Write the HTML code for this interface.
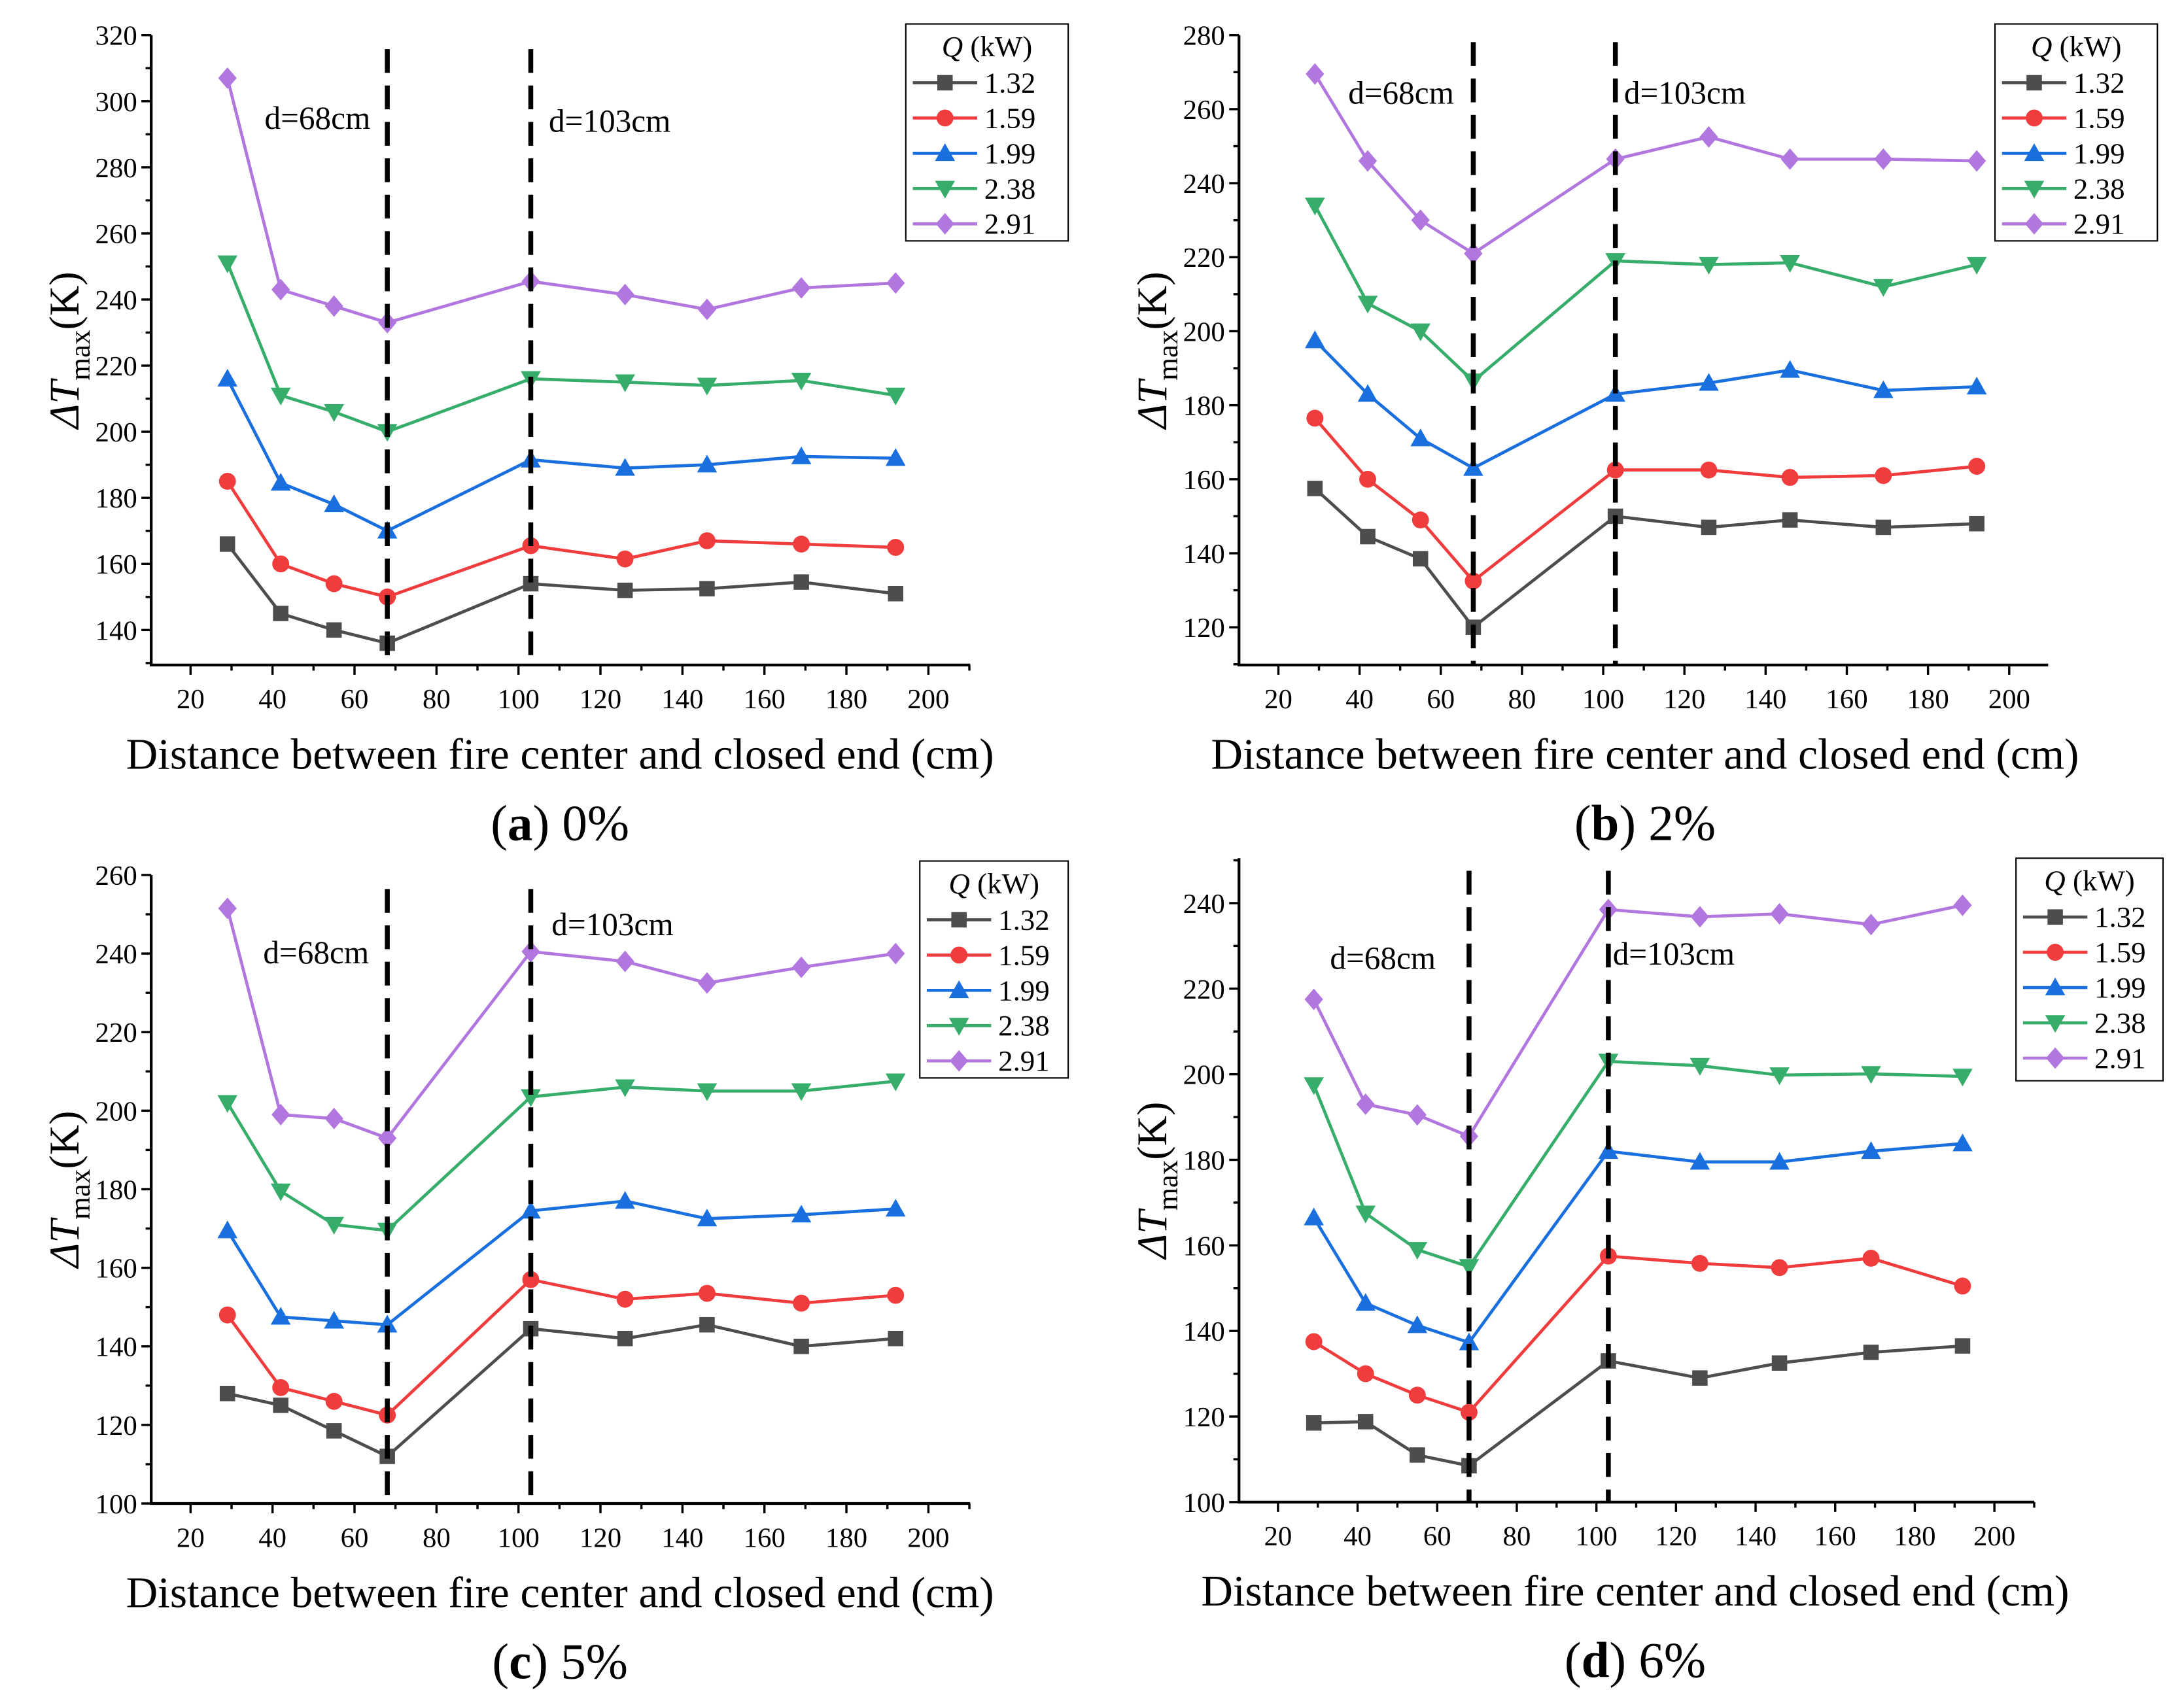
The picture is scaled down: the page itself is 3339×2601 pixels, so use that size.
<!DOCTYPE html>
<html><head><meta charset="utf-8"><style>
html,body{margin:0;padding:0;background:#fff;}
svg{display:block;}
svg text{font-family:"Liberation Serif",serif;}
</style></head><body>
<svg id="fig" width="3339" height="2601" viewBox="0 0 1560 1215" xmlns="http://www.w3.org/2000/svg" font-family="Liberation Serif, serif"></svg>
<script>
const xVals=[29,42,55,68,103,126,146,169,192];
const seriesNames=["1.32","1.59","1.99","2.38","2.91"];
const colors=["#4d4d4d","#f03c3c","#1a6fdf","#37ad6b","#b177de"];
const markers=["square","circle","tri-up","tri-down","diamond"];
const xTicks=[20,40,60,80,100,120,140,160,180,200];
const dataA=[[166,145,140,136,154,152,152.5,154.5,151],[185,160,154,150,165.5,161.5,167,166,165],[216,184.5,178,170,191.5,189,190,192.5,192],[251,211,206,200,216,215,214,215.5,211],[307,243,238,233,245.5,241.5,237,243.5,245]];
const dataB=[[157.5,144.5,138.5,120,150,147,149,147,148],[176.5,160,149,132.5,162.5,162.5,160.5,161,163.5],[197.5,183,171,163,183,186,189.5,184,185],[234,207.5,200,186.5,219,218,218.5,212,218],[269.5,246,230,221,246.5,252.5,246.5,246.5,246]];
const dataC=[[128,125,118.5,112,144.5,142,145.5,140,142],[148,129.5,126,122.5,157,152,153.5,151,153],[169.5,147.5,146.5,145.5,174.5,177,172.5,173.5,175],[202,179.5,171,169.5,203.5,206,205,205,207.5],[251.5,199,198,193,240.5,238,232.5,236.5,240]];
const dataD=[[118.5,118.8,111,108.5,133,129,132.5,135,136.5],[137.5,130,125,121,157.5,155.8,154.8,157,150.5],[166.5,146.5,141.3,137.3,182,179.5,179.5,182,183.8],[197.5,167.5,159,155,203,202,199.8,200.1,199.5],[217.5,193,190.5,185.5,238.5,236.8,237.5,235,239.5]];
const yTicksA=[140,160,180,200,220,240,260,280,300,320];
const yTicksB=[120,140,160,180,200,220,240,260,280];
const yTicksC=[100,120,140,160,180,200,220,240,260];
const yTicksD=[100,120,140,160,180,200,220,240];
const dashX=[68,103];

const NS="http://www.w3.org/2000/svg";
const svg=document.getElementById('fig');
const FF='"Liberation Serif", serif';
function mk(tag,attrs,parent){const e=document.createElementNS(NS,tag);for(const k in attrs)e.setAttribute(k,attrs[k]);if(tag==='text')e.setAttribute('font-family',FF);(parent||svg).appendChild(e);return e;}
function ts(parent,txt,attrs){const t=document.createElementNS(NS,'tspan');for(const k in (attrs||{}))t.setAttribute(k,attrs[k]);t.textContent=txt;parent.appendChild(t);return t;}

function marker(g,type,cx,cy,c,s){
  let e;
  if(type==="square")e=mk('rect',{x:cx-s,y:cy-s,width:2*s,height:2*s,fill:c},g);
  else if(type==="circle")e=mk('circle',{cx:cx,cy:cy,r:s*1.1,fill:c},g);
  else if(type==="tri-up")e=mk('polygon',{points:`${cx},${cy-s*1.3} ${cx-s*1.3},${cy+s} ${cx+s*1.3},${cy+s}`,fill:c},g);
  else if(type==="tri-down")e=mk('polygon',{points:`${cx},${cy+s*1.3} ${cx-s*1.3},${cy-s} ${cx+s*1.3},${cy-s}`,fill:c},g);
  else e=mk('polygon',{points:`${cx},${cy-s*1.4} ${cx+s*1.2},${cy} ${cx},${cy+s*1.4} ${cx-s*1.2},${cy}`,fill:c},g);
  
  
  return e;
}

function panel(id,cfg,data,yTicks){
  const g=mk('g',{});
  
  
  const {L,R,T,B,x0,x1,y0,y1}=cfg;
  const sx=v=>L+(v-x0)/(x1-x0)*(R-L);
  const sy=v=>B-(v-y0)/(y1-y0)*(B-T);
  for(let v=10;v<=210;v+=10){if(v<x0||v>x1)continue;const major=v%20===0;mk('line',{x1:sx(v),x2:sx(v),y1:B,y2:B+(major?7:4),stroke:'#000','stroke-width':1.6},g);}
  for(let v=Math.ceil(y0/10)*10;v<=y1;v+=10){const major=yTicks.includes(v);mk('line',{x1:L,x2:L-(major?7:4),y1:sy(v),y2:sy(v),stroke:'#000','stroke-width':1.6},g);}
  xTicks.forEach(v=>{const t=mk('text',{x:sx(v),y:B+31,'font-size':20,'text-anchor':'middle'},g);t.textContent=v;});
  yTicks.forEach(v=>{const t=mk('text',{x:L-10,y:sy(v)+7,'font-size':20,'text-anchor':'end'},g);t.textContent=v;});
  const ax=mk('path',{d:`M${L},${T} L${L},${B} L${R},${B}`,fill:'none',stroke:'#000','stroke-width':2},g);
  
  
  data.forEach((ys,si)=>{
    const pts=ys.map((v,i)=>`${sx(xVals[i])},${sy(v)}`).join(' ');
    const pl=mk('polyline',{points:pts,fill:'none',stroke:colors[si],'stroke-width':2.2},g);
    
    
    ys.forEach((v,i)=>marker(g,markers[si],sx(xVals[i]),sy(v),colors[si],5.5));
  });
  dashX.forEach(d=>{const ln=mk('line',{x1:sx(d),x2:sx(d),y1:cfg.dT,y2:B,stroke:'#000','stroke-width':3.5,'stroke-dasharray':'17,9'},g);});
  cfg.labels.forEach(l=>{const t=mk('text',{x:l[0],y:l[1],'font-size':23},g);t.textContent=l[2];});
  const yl=mk('text',{x:0,y:0,'font-size':30,'text-anchor':'middle',transform:`translate(${L-52},${(T+B)/2}) rotate(-90)`},g);
  
  ts(yl,'ΔT',{'font-style':'italic'});ts(yl,'max',{'font-size':21,dy:8});ts(yl,'(K)',{dy:-8});
  const xl=mk('text',{x:cfg.xlX,y:B+74,'font-size':31,'text-anchor':'middle',textLength:620,lengthAdjust:'spacingAndGlyphs'},g);
  xl.textContent='Distance between fire center and closed end (cm)';
  
  const st=mk('text',{x:cfg.xlX,y:B+125,'font-size':36,'text-anchor':'middle'},g);
  ts(st,'(');ts(st,id,{'font-weight':'bold'});ts(st,') '+cfg.sub);
  
  const [lx,ly,lw,lh]=cfg.leg;
  const lg=mk('g',{},g);
  
  mk('rect',{x:lx,y:ly,width:lw,height:lh,fill:'#fff',stroke:'#000','stroke-width':1},lg);
  const lt=mk('text',{x:lx+lw/2,y:ly+23,'font-size':21,'text-anchor':'middle'},lg);
  ts(lt,'Q',{'font-style':'italic'});ts(lt,' (kW)');
  seriesNames.forEach((n,i)=>{
    const yy=ly+42+i*25.2;
    const e=mk('g',{},lg);
    
    mk('line',{x1:lx+5,x2:lx+51,y1:yy,y2:yy,stroke:colors[i],'stroke-width':2.2},e);
    marker(e,markers[i],lx+28,yy,colors[i],5.5);
    const t=mk('text',{x:lx+56,y:yy+7,'font-size':21},e);t.textContent=n;
  });
}
panel('a',{L:108,R:693,T:25,B:475,x0:10.4,x1:210.2,y0:129.4,y1:320,dT:35,xlX:400,sub:'0%',labels:[[189,92,'d=68cm'],[392,94,'d=103cm']],leg:[647,17,116,155]},dataA,yTicksA);
panel('b',{L:885,R:1463,T:25,B:475,x0:10.3,x1:209.6,y0:109.8,y1:280,dT:30,xlX:1175,sub:'2%',labels:[[963,74,'d=68cm'],[1160,74,'d=103cm']],leg:[1425,17,116,155]},dataB,yTicksB);
panel('c',{L:108,R:693,T:625,B:1074,x0:10.4,x1:210.2,y0:100,y1:260,dT:635,xlX:400,sub:'5%',labels:[[188,688,'d=68cm'],[394,668,'d=103cm']],leg:[657,615,106,155]},dataC,yTicksC);
panel('d',{L:885,R:1453,T:613,B:1073,x0:10.2,x1:210,y0:100,y1:250.5,dT:622,xlX:1168,sub:'6%',labels:[[950,692,'d=68cm'],[1152,689,'d=103cm']],leg:[1440,613,105,159]},dataD,yTicksD);
</script>
</body></html>
